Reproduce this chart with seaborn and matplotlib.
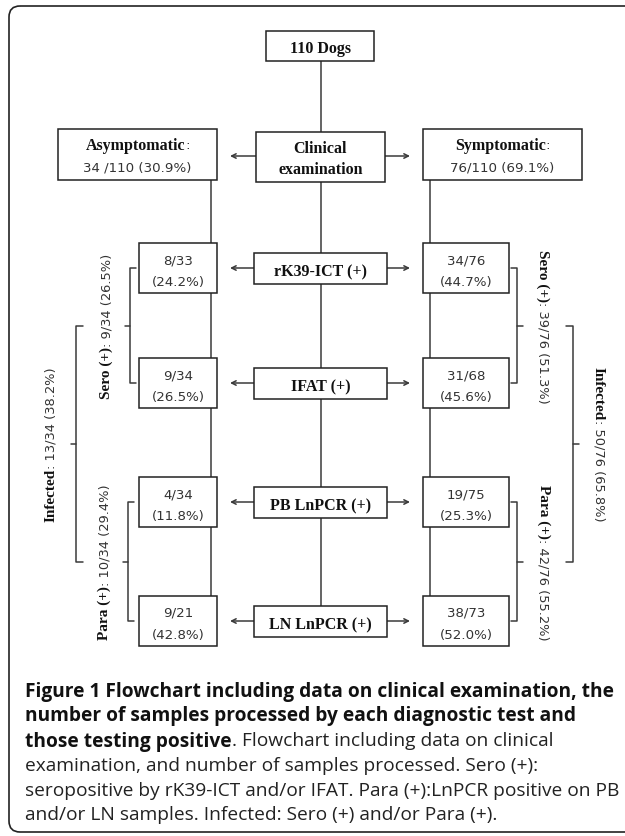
import matplotlib
matplotlib.use("Agg")
import matplotlib.pyplot as plt
import seaborn as sns
from matplotlib.patches import Rectangle, FancyBboxPatch

### ------------------------------------------------------------------ ###
### Data read off the flowchart

total_dogs = 110
asym_n, asym_pct = 34, "30.9"
sym_n, sym_pct = 76, "69.1"

tests = ["rK39-ICT (+)", "IFAT (+)", "PB LnPCR (+)", "LN LnPCR (+)"]
asym_pos = [8, 9, 4, 9]
asym_tot = [33, 34, 34, 21]
asym_pcts = ["24.2", "26.5", "11.8", "42.8"]
sym_pos = [34, 31, 19, 38]
sym_tot = [76, 68, 75, 73]
sym_pcts = ["44.7", "45.6", "25.3", "52.0"]

group_names = ["Sero (+)", "Infected", "Para (+)"]
asym_group_pos = [9, 13, 10]
asym_group_pcts = ["26.5", "38.2", "29.4"]
sym_group_pos = [39, 50, 42]
sym_group_pcts = ["51.3", "65.8", "55.2"]

caption_bold = ["Figure 1 Flowchart including data on clinical examination, the",
                "number of samples processed by each diagnostic test and",
                "those testing positive"]
caption_regular = [". Flowchart including data on clinical",
                   "examination, and number of samples processed. Sero (+):",
                   "seropositive by rK39-ICT and/or IFAT. Para (+):LnPCR positive on PB",
                   "and/or LN samples. Infected: Sero (+) and/or Para (+)."]

### ------------------------------------------------------------------ ###
### Layout (pixels, y downwards)

sns.set_theme(style="white")
plt.rcParams["font.family"] = ["DejaVu Sans"]

W, H = 625, 837
fig = plt.figure(figsize=(W / 100, H / 100), dpi=100)
ax = fig.add_axes([0, 0, 1, 1])
ax.set_xlim(0, W)
ax.set_ylim(H, 0)
ax.axis("off")
renderer = fig.canvas.get_renderer()

line_col = "#3a3a3a"
num_col = "#333333"
LW = 1.1

bold_kw = dict(family="Liberation Serif", weight="bold", fontsize=11.5, color="#111111")
num_kw = dict(family="DejaVu Sans", fontsize=9.6, color=num_col)
grp_bold = dict(family="Liberation Serif", weight="bold", fontsize=11, color="#111111")
grp_num = dict(family="DejaVu Sans", fontsize=9.4, color=num_col)


def run(x, y, segs, rot=0, center=True):
    # place a sequence of differently styled strings one after another
    texts = [ax.text(0, 0, s, rotation=rot, rotation_mode="anchor", ha="left",
                     va="center_baseline", **kw) for s, kw in segs]
    lens = []
    for t in texts:
        bb = t.get_window_extent(renderer)
        lens.append(bb.width if rot == 0 else bb.height)
    pos = -sum(lens) / 2 if center else 0
    for t, L in zip(texts, lens):
        if rot == 0:
            t.set_position((x + pos, y))
        elif rot == 90:
            t.set_position((x, y - pos))
        else:
            t.set_position((x, y + pos))
        pos += L
    return texts


def box(x0, y0, x1, y1):
    ax.add_patch(Rectangle((x0, y0), x1 - x0, y1 - y0, facecolor="white",
                           edgecolor="#222222", lw=LW, zorder=3))


def arrow(x_from, x_to, y):
    ax.annotate("", xy=(x_to, y), xytext=(x_from, y),
                arrowprops=dict(arrowstyle="->", lw=LW, color=line_col,
                                mutation_scale=8, shrinkA=0, shrinkB=0), zorder=2)


def vline(x, y0, y1):
    ax.plot([x, x], [y0, y1], color=line_col, lw=LW, zorder=1, solid_capstyle="butt")


def bracket(x, y0, y1, stub, tick):
    # stub: horizontal offset of the end pieces, tick: offset of the middle tick
    ym = (y0 + y1) / 2
    ax.plot([x + stub, x, x, x + stub], [y0, y0, y1, y1], color=line_col, lw=LW,
            solid_joinstyle="round")
    ax.plot([x, x + tick], [ym, ym], color=line_col, lw=LW)


# outer frame
ax.add_patch(FancyBboxPatch((9, 7), 700, 826, boxstyle="round,pad=0,rounding_size=11",
                            facecolor="none", edgecolor="#222222", lw=1.2))

# top part
cx, lx, rx = 320.5, 211, 430
box(266, 32, 374, 62)
run(cx, 47, [("110 Dogs", bold_kw)])
vline(cx, 62, 133)

box(256, 133, 385, 183)
run(cx, 147, [("Clinical", bold_kw)])
run(cx, 168, [("examination", bold_kw)])

box(58, 130, 217, 181)
run(137.5, 144, [("Asymptomatic", bold_kw), (":", num_kw)])
run(137.5, 166, [(f"{asym_n} /{total_dogs} ({asym_pct}%)", num_kw)])
box(423, 130, 582, 181)
run(502.5, 144, [("Symptomatic", bold_kw), (":", num_kw)])
run(502.5, 166, [(f"{sym_n}/{total_dogs} ({sym_pct}%)", num_kw)])
arrow(256, 230, 157)
arrow(385, 410, 157)

# test rows
row_y = [269, 384, 503, 622]
vline(cx, 183, row_y[-1])
vline(lx, 181, row_y[-1])
vline(rx, 181, row_y[-1])
for i, name in enumerate(tests):
    y = row_y[i]
    box(254, y - 15.5, 387, y + 15.5)
    run(cx, y + 1, [(name, bold_kw)])
    box(139, y - 25, 217, y + 25)
    run(178, y - 10, [(f"{asym_pos[i]}/{asym_tot[i]}", num_kw)])
    run(178, y + 12, [(f"({asym_pcts[i]}%)", num_kw)])
    box(423, y - 25, 509, y + 25)
    run(466, y - 10, [(f"{sym_pos[i]}/{sym_tot[i]}", num_kw)])
    run(466, y + 12, [(f"({sym_pcts[i]}%)", num_kw)])
    arrow(254, 230, y)
    arrow(387, 410, y)

# group brackets: sero = rows 0-1, para = rows 2-3, infected = sero mid to para mid
sero_mid = (row_y[0] + row_y[1]) / 2
para_mid = (row_y[2] + row_y[3]) / 2
spans = [(row_y[0], row_y[1]), (sero_mid, para_mid), (row_y[2], row_y[3])]
left_x = [130, 76, 128]
right_x = [517, 573, 517]
left_txt_x = [105, 50, 103]
right_txt_x = [544, 600, 545]
for g in range(3):
    y0, y1 = spans[g]
    ym = (y0 + y1) / 2
    stub = 6 if g != 1 else 7
    bracket(left_x[g], y0, y1, stub, -5)
    bracket(right_x[g], y0, y1, -stub, 6)
    run(left_txt_x[g], ym, [(group_names[g], grp_bold),
                            (f": {asym_group_pos[g]}/{asym_n} ({asym_group_pcts[g]}%)", grp_num)],
        rot=90)
    run(right_txt_x[g], ym, [(group_names[g], grp_bold),
                             (f": {sym_group_pos[g]}/{sym_n} ({sym_group_pcts[g]}%)", grp_num)],
        rot=-90)

# caption
cap_x = 25
cap_y = [689, 714, 739, 764, 789, 813]
cap_b = dict(family="Open Sans", weight="bold", fontsize=12.5, color="#111111")
probe = ax.text(0, 0, caption_bold[0], **cap_b)
w = probe.get_window_extent(renderer).width
probe.remove()
size = 12.5 * 588 / w
cap_b["fontsize"] = size
cap_r = dict(family="Open Sans", fontsize=size, color="#222222")
run(cap_x, cap_y[0], [(caption_bold[0], cap_b)], center=False)
run(cap_x, cap_y[1], [(caption_bold[1], cap_b)], center=False)
run(cap_x, cap_y[2], [(caption_bold[2], cap_b), (caption_regular[0], cap_r)], center=False)
for k in range(1, 4):
    run(cap_x, cap_y[k + 2], [(caption_regular[k], cap_r)], center=False)

fig.savefig("out.png", dpi=100)
